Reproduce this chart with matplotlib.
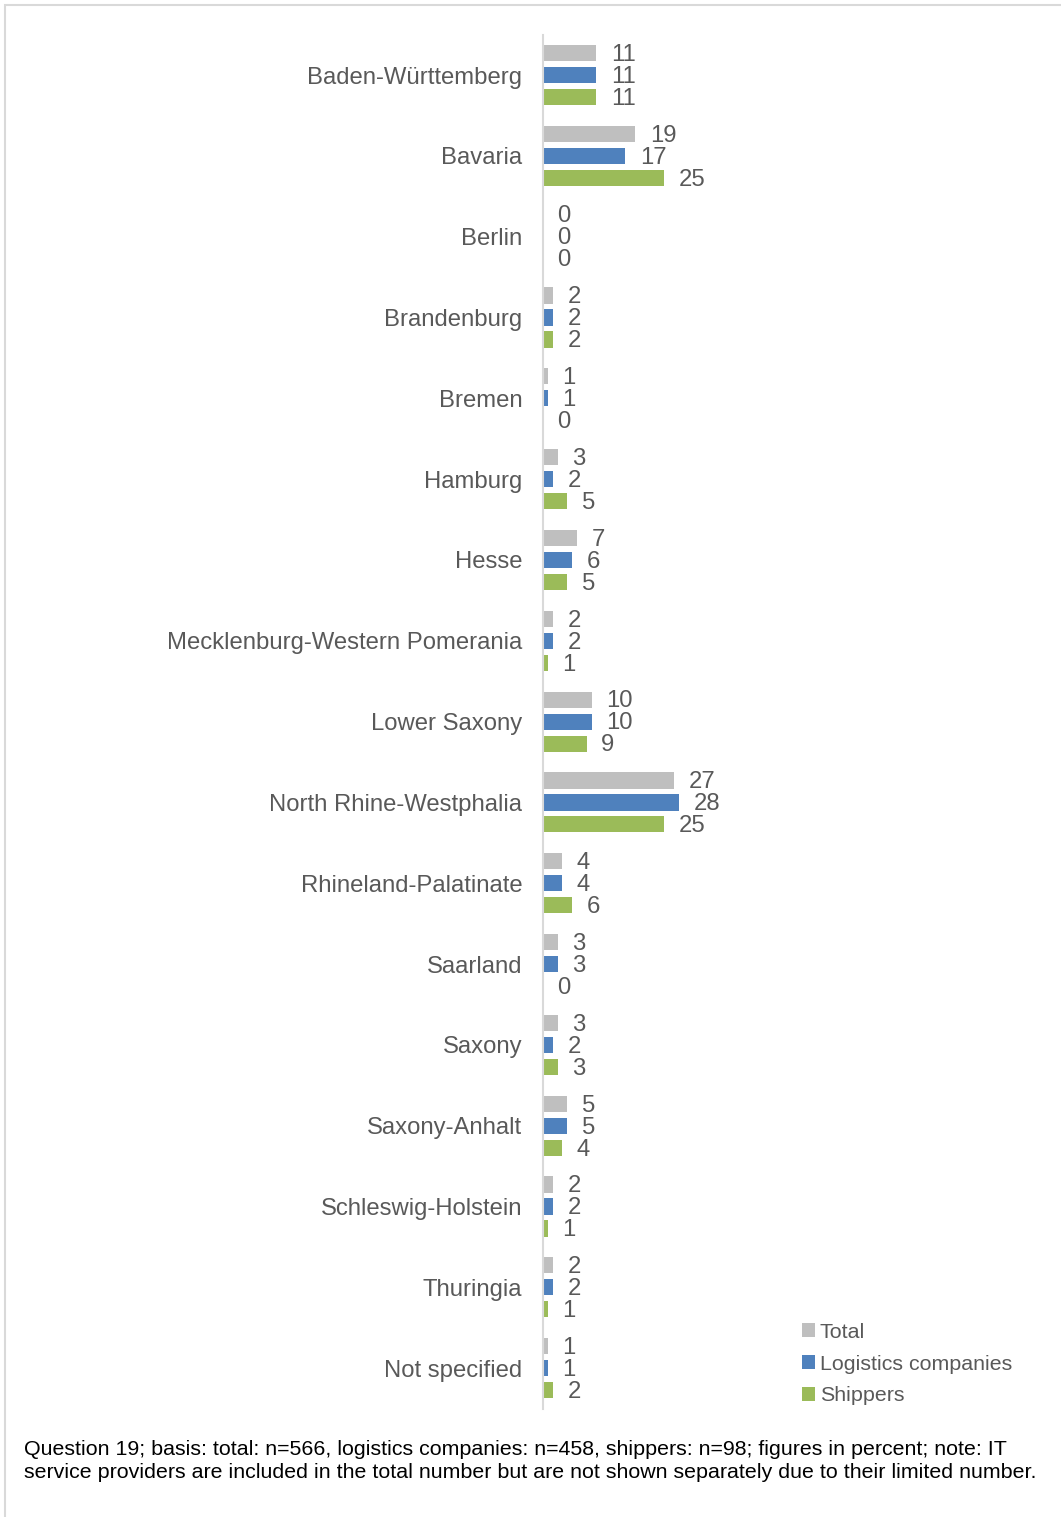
import numpy as np
import matplotlib.pyplot as plt
from matplotlib.patches import Rectangle

# states and shares (percent) per respondent group
states = ['Baden-Württemberg', 'Bavaria', 'Berlin', 'Brandenburg', 'Bremen',
          'Hamburg', 'Hesse', 'Mecklenburg-Western Pomerania', 'Lower Saxony',
          'North Rhine-Westphalia', 'Rhineland-Palatinate', 'Saarland', 'Saxony',
          'Saxony-Anhalt', 'Schleswig-Holstein', 'Thuringia', 'Not specified']
total     = [11, 19, 0, 2, 1, 3, 7, 2, 10, 27, 4, 3, 3, 5, 2, 2, 1]
logistics = [11, 17, 0, 2, 1, 2, 6, 2, 10, 28, 4, 3, 2, 5, 2, 2, 1]
shippers  = [11, 25, 0, 2, 0, 5, 5, 1, 9, 25, 6, 0, 3, 4, 1, 1, 2]

series = [('Total', total, '#BFBFBF'),
          ('Logistics companies', logistics, '#4F81BD'),
          ('Shippers', shippers, '#9BBB59')]

note = ('Question 19; basis: total: n=566, logistics companies: n=458, shippers: n=98; '
        'figures in percent; note: IT\nservice providers are included in the total number '
        'but are not shown separately due to their limited number.')

plt.rcParams['font.family'] = ['Liberation Sans', 'DejaVu Sans']
txt = '#595959'

W, H = 1061, 1517
fig = plt.figure(figsize=(W / 100, H / 100), dpi=100)

# light frame around the whole figure
fig.patches.append(Rectangle((5 / W, -0.01), 1.02, 1 - 5 / H + 0.01,
                             transform=fig.transFigure, fill=False,
                             edgecolor='#D9D9D9', linewidth=1.5))

ax = fig.add_axes([543 / W, 1 - 1408.6 / H, 507 / W, (1408.6 - 34.6) / H])

y = np.arange(len(states))
offs = [-0.272, 0.0, 0.272]
handles = []
for (name, vals, col), off in zip(series, offs):
    b = ax.barh(y + off, vals, height=0.2, color=col, label=name)
    handles.append(b)
    for yi, v in zip(y, vals):
        ax.annotate(str(v), (v, yi + off), xytext=(10.5, -1.3), textcoords='offset points',
                    va='center', ha='left', fontsize=17.2, color=txt)

ax.set_xlim(0, 507 / 4.85)
ax.set_ylim(len(states) - 0.5, -0.5)
ax.set_yticks(y)
ax.set_yticklabels(states, fontsize=17.2, color=txt)
ax.tick_params(axis='y', length=0, pad=15)
ax.set_xticks([])
for s in ['top', 'right', 'bottom']:
    ax.spines[s].set_visible(False)
ax.spines['left'].set_color('#D9D9D9')
ax.spines['left'].set_linewidth(1.5)

leg = fig.legend(handles=handles, loc='upper left',
                 bbox_to_anchor=(791 / W, 1 - 1312 / H), frameon=False,
                 fontsize=15.4, handlelength=0.6, handleheight=0.6,
                 handletextpad=0.25, labelspacing=0.6, borderpad=0)
for t in leg.get_texts():
    t.set_color(txt)

fig.text(24 / W, 1 - 1440 / H, note, fontsize=15.4, color='black',
         va='top', ha='left', linespacing=1.3)

fig.savefig('out.png', dpi=100)
